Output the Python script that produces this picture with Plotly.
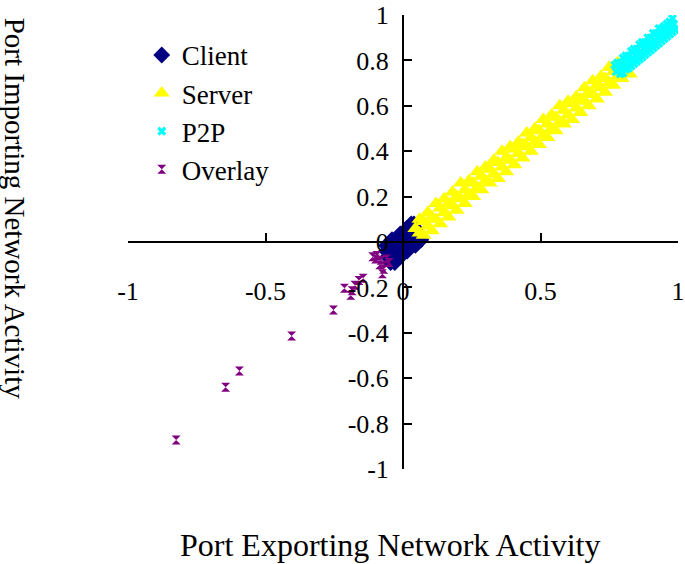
import plotly.graph_objects as go

# CLIENT POINTS (DIAMONDS, BLOB AROUND THE ORIGIN)
client_x = [-0.045, -0.03,
            -0.055, -0.04, -0.025, -0.01,
            -0.06, -0.045, -0.03, -0.015, 0.0, 0.015,
            -0.06, -0.045, -0.03, -0.015, 0.0, 0.015, 0.03, 0.045,
            -0.04, -0.025, -0.01, 0.005, 0.02, 0.035, 0.05, 0.065,
            -0.01, 0.005, 0.02, 0.035, 0.05, 0.06,
            0.015, 0.03, 0.045,
            0.03, 0.04]
client_y = [-0.09, -0.09,
            -0.065, -0.065, -0.065, -0.065,
            -0.04, -0.04, -0.04, -0.04, -0.04, -0.04,
            -0.015, -0.015, -0.015, -0.015, -0.015, -0.015, -0.015, -0.015,
            0.01, 0.01, 0.01, 0.01, 0.01, 0.01, 0.01, 0.01,
            0.035, 0.035, 0.035, 0.035, 0.035, 0.035,
            0.06, 0.06, 0.06,
            0.08, 0.08]

# SERVER POINTS (TRIANGLES, MAIN DIAGONAL BAND), FOUR ROWS ACROSS THE BAND
server_x = [0.06, 0.09, 0.12, 0.15, 0.18, 0.21, 0.24, 0.27, 0.30, 0.33, 0.36, 0.39, 0.42, 0.45,
            0.48, 0.51, 0.54, 0.57, 0.60, 0.63, 0.66, 0.69, 0.72, 0.75, 0.78,
            0.045, 0.075, 0.105, 0.135, 0.165, 0.195, 0.225, 0.255, 0.285, 0.315, 0.345, 0.375,
            0.405, 0.435, 0.465, 0.495, 0.525, 0.555, 0.585, 0.615, 0.645, 0.675, 0.705, 0.735,
            0.765, 0.795,
            0.06, 0.09, 0.12, 0.15, 0.18, 0.21, 0.24, 0.27, 0.30, 0.33, 0.36, 0.39, 0.42, 0.45,
            0.48, 0.51, 0.54, 0.57, 0.60, 0.63, 0.66, 0.69, 0.72, 0.75, 0.78,
            0.075, 0.105, 0.135, 0.165, 0.195, 0.225, 0.255, 0.285, 0.315, 0.345, 0.375, 0.405,
            0.435, 0.465, 0.495, 0.525, 0.555, 0.585, 0.615, 0.645, 0.675, 0.705, 0.735, 0.765,
            0.795, 0.825]
server_y = [0.10, 0.13, 0.17, 0.19, 0.22, 0.26, 0.27, 0.31, 0.33, 0.36, 0.40, 0.42, 0.44, 0.48,
            0.50, 0.54, 0.56, 0.60, 0.62, 0.64, 0.68, 0.71, 0.73, 0.77, 0.79,
            0.06, 0.09, 0.11, 0.15, 0.17, 0.20, 0.23, 0.26, 0.29, 0.32, 0.35, 0.37,
            0.41, 0.43, 0.46, 0.49, 0.52, 0.55, 0.58, 0.61, 0.63, 0.66, 0.69, 0.72,
            0.75, 0.78,
            0.04, 0.07, 0.10, 0.13, 0.16, 0.19, 0.21, 0.24, 0.27, 0.30, 0.33, 0.36, 0.39, 0.42,
            0.44, 0.47, 0.50, 0.53, 0.56, 0.59, 0.62, 0.65, 0.68, 0.70, 0.73,
            0.03, 0.05, 0.08, 0.11, 0.14, 0.17, 0.20, 0.23, 0.26, 0.28, 0.31, 0.34,
            0.37, 0.40, 0.43, 0.46, 0.49, 0.52, 0.54, 0.57, 0.60, 0.63, 0.66, 0.69,
            0.72, 0.74]

# P2P POINTS (SMALL CROSSES, TOP RIGHT END), THREE ROWS ACROSS THE BAND
p2p_x = [0.77, 0.78, 0.79, 0.80, 0.81, 0.82, 0.83, 0.84, 0.85, 0.86, 0.87, 0.88, 0.89, 0.90,
         0.91, 0.92, 0.93, 0.94, 0.95, 0.96, 0.97, 0.98,
         0.775, 0.785, 0.795, 0.805, 0.815, 0.825, 0.835, 0.845, 0.855, 0.865, 0.875, 0.885,
         0.895, 0.905, 0.915, 0.925, 0.935, 0.945, 0.955, 0.965, 0.975, 0.985,
         0.79, 0.80, 0.81, 0.82, 0.83, 0.84, 0.85, 0.86, 0.87, 0.88, 0.89, 0.90, 0.91, 0.92,
         0.93, 0.94, 0.95, 0.96, 0.97, 0.98, 0.99]
p2p_y = [0.78, 0.79, 0.79, 0.81, 0.82, 0.82, 0.84, 0.85, 0.85, 0.87, 0.88, 0.88, 0.90, 0.90,
         0.92, 0.92, 0.94, 0.94, 0.95, 0.96, 0.97, 0.985,
         0.75, 0.76, 0.77, 0.78, 0.79, 0.80, 0.81, 0.82, 0.83, 0.84, 0.85, 0.86,
         0.87, 0.88, 0.89, 0.90, 0.91, 0.92, 0.93, 0.94, 0.95, 0.96,
         0.74, 0.745, 0.76, 0.765, 0.775, 0.785, 0.795, 0.805, 0.815, 0.825, 0.835, 0.845, 0.855,
         0.865, 0.875, 0.885, 0.895, 0.905, 0.915, 0.925, 0.935]

# OVERLAY POINTS (HOURGLASSES, LOWER LEFT)
overlay_x = [-0.825, -0.645, -0.595, -0.405, -0.253, -0.213, -0.19, -0.175, -0.16, -0.145, -0.185,
             -0.11, -0.095, -0.08, -0.06, -0.085, -0.07, -0.075, -0.05, -0.1]
overlay_y = [-0.872, -0.64, -0.568, -0.414, -0.30, -0.204, -0.235, -0.19, -0.17, -0.16, -0.215,
             -0.065, -0.06, -0.08, -0.075, -0.1, -0.12, -0.14, -0.09, -0.075]

# TICKS
x_ticks = [-1, -0.5, 0, 0.5, 1]
x_labels = ['-1', '-0.5', '0', '0.5', '1']
y_ticks = [-1, -0.8, -0.6, -0.4, -0.2, 0, 0.2, 0.4, 0.6, 0.8, 1]
y_labels = ['-1', '-0.8', '-0.6', '-0.4', '-0.2', '0', '0.2', '0.4', '0.6', '0.8', '1']

FONTE = 'Liberation Serif, Times New Roman, serif'

fig = go.Figure()

fig.add_trace(go.Scatter(x=client_x, y=client_y, mode='markers', name='Client', legendgroup='a',
                         marker=dict(symbol='diamond', size=13, color='#000080')))
fig.add_trace(go.Scatter(x=server_x, y=server_y, mode='markers', name='Server', legendgroup='b',
                         marker=dict(symbol='triangle-up', size=14, color='#FFFF00')))
fig.add_trace(go.Scatter(x=p2p_x, y=p2p_y, mode='markers', name='P2P', legendgroup='c',
                         marker=dict(symbol='x', size=8, color='#00FFFF')))
fig.add_trace(go.Scatter(x=overlay_x, y=overlay_y, mode='markers', name='Overlay', legendgroup='d',
                         marker=dict(symbol='hourglass', size=9, color='#800080')))

eixo = dict(showgrid=False, zeroline=False, showline=True, linecolor='black', linewidth=2,
            ticks='inside', ticklen=8, tickwidth=2, tickcolor='black', automargin=False,
            tickfont=dict(family=FONTE, size=26, color='black'), anchor='free', position=0.5)

fig.update_layout(
    width=685, height=564,
    margin=dict(l=128, r=7, t=15, b=95),
    paper_bgcolor='white', plot_bgcolor='white',
    font=dict(family=FONTE, color='black'),
    xaxis=dict(eixo, range=[-1, 1], tickvals=x_ticks, ticktext=x_labels, ticklabelstandoff=26),
    yaxis=dict(eixo, range=[-1, 1], tickvals=y_ticks, ticktext=y_labels, ticklabelstandoff=8),
    legend=dict(x=0.025, y=0.965, xanchor='left', yanchor='top', bgcolor='rgba(0,0,0,0)',
                font=dict(family=FONTE, size=27), tracegroupgap=0, traceorder='grouped'),
    annotations=[
        dict(text='Port Exporting Network Activity', xref='paper', yref='paper', x=0.476, y=-0.167,
             showarrow=False, font=dict(family=FONTE, size=32), xanchor='center', yanchor='middle'),
        dict(text='Port Importing Network Activity', xref='paper', yref='paper', x=-0.205, y=0.575,
             showarrow=False, textangle=90, font=dict(family=FONTE, size=29),
             xanchor='center', yanchor='middle'),
    ],
)

# TIRA A MARGEM PADRAO DO BODY PARA A FIGURA COMECAR NO CANTO
fig.write_html('out.html', config={'displayModeBar': False},
               post_script="document.body.style.margin='0';")
